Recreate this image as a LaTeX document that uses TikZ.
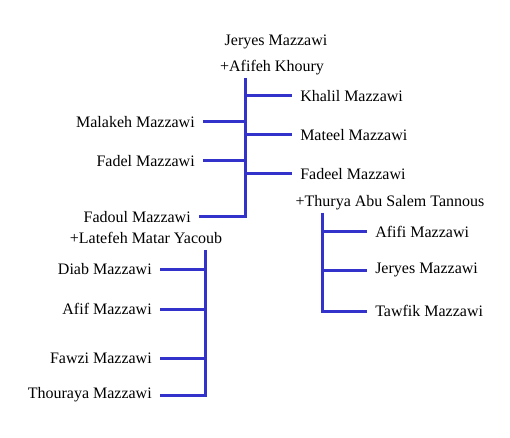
\documentclass[tikz,border=0pt]{standalone}
\usepackage{fontspec}
\setmainfont{Liberation Serif}
\usetikzlibrary{positioning}
\definecolor{linkblue}{RGB}{51,51,204}

\begin{document}
\begin{tikzpicture}[x=0.75pt,y=-0.75pt,
  person/.style={inner xsep=6pt, inner ysep=1pt, font=\fontsize{12}{14}\selectfont},
  link/.style={draw=linkblue, line width=2.25pt},
]
\useasboundingbox (0,0) rectangle (510,438);

% Jeryes and Afifeh
\node[person] (jeryes) at (276,42) {Jeryes Mazzawi};
\node[person] (afifeh) at (272,68) {+Afifeh Khoury};
\coordinate (trunkA) at (245,78);

\node[person, anchor=west] (khalil) at (292,96)  {Khalil Mazzawi};
\node[person, anchor=west] (mateel) at (292,135) {Mateel Mazzawi};
\node[person, anchor=west] (fadeel) at (292,174) {Fadeel Mazzawi};
\node[person, anchor=east] (malakeh) at (203,122) {Malakeh Mazzawi};
\node[person, anchor=east] (fadel)   at (203,161) {Fadel Mazzawi};
\node[person, anchor=east] (fadoul)  at (199,217) {Fadoul Mazzawi};

\draw[link] (trunkA) |- (fadoul.east);
\draw[link] (trunkA |- khalil) -- (khalil.west);
\draw[link] (trunkA |- mateel) -- (mateel.west);
\draw[link] (trunkA |- fadeel) -- (fadeel.west);
\draw[link] (trunkA |- malakeh) -- (malakeh.east);
\draw[link] (trunkA |- fadel) -- (fadel.east);

% Fadoul and Latefeh
\node[person] (latefeh) at (146,238) {+Latefeh Matar Yacoub};
\coordinate (trunkB) at (205,250);

\node[person, anchor=east] (diab)     at (160,269) {Diab Mazzawi};
\node[person, anchor=east] (afif)     at (160,309) {Afif Mazzawi};
\node[person, anchor=east] (fawzi)    at (160,358) {Fawzi Mazzawi};
\node[person, anchor=east] (thouraya) at (160,395) {Thouraya Mazzawi};

\draw[link] (trunkB) |- (thouraya.east);
\draw[link] (trunkB |- diab) -- (diab.east);
\draw[link] (trunkB |- afif) -- (afif.east);
\draw[link] (trunkB |- fawzi) -- (fawzi.east);

% Fadeel and Thurya
\node[person] (thurya) at (390,203) {+Thurya Abu Salem Tannous};
\coordinate (trunkC) at (322,213);

\node[person, anchor=west] (afifi)   at (367,232) {Afifi Mazzawi};
\node[person, anchor=west] (jeryesb) at (367,270) {Jeryes Mazzawi};
\node[person, anchor=west] (tawfik)  at (367,311) {Tawfik Mazzawi};

\draw[link] (trunkC) |- (tawfik.west);
\draw[link] (trunkC |- afifi) -- (afifi.west);
\draw[link] (trunkC |- jeryesb) -- (jeryesb.west);
\end{tikzpicture}
\end{document}
